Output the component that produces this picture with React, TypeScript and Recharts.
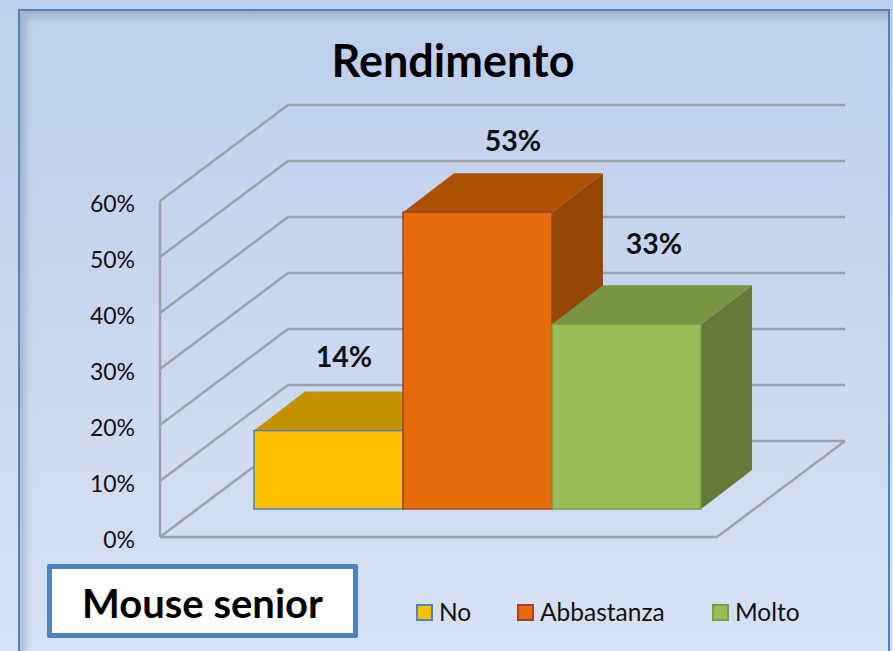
import { BarChart, Bar, XAxis, YAxis, CartesianGrid, Legend, LabelList } from 'recharts'

const categories = ['Rendimento']
const seriesNames = ['No', 'Abbastanza', 'Molto']
const seriesValues = [14, 53, 33]
const yTicks = [0, 10, 20, 30, 40, 50, 60]

const FONT = 'Lato, sans-serif'
const WALL_DX = 128
const WALL_DY = 96
const BAR_SHIFT_X = 38.5
const BAR_SHIFT_Y = 28
const DEPTH_X = 51
const DEPTH_Y = 39

const faceColors = ['#ffc000', '#e46c0a', '#9bbb59']
const topColors = ['#c39200', '#ad5205', '#7a9445']
const sideColors = ['#a87e00', '#964606', '#657a39']
const edgeColors = ['#4f81bd', '#a5402c', '#7f9a48']
const labelOffsets = [
  [54, -103],
  [74, -100],
  [66, -109],
]

const data = categories.map((name) => {
  const row: Record<string, string | number> = { name }
  seriesNames.forEach((s, i) => {
    row[s] = seriesValues[i]
  })
  return row
})

// Front face plus top and side, moved back onto the floor of the 3D box
function Box3D(props: any) {
  const { x, y, width, height, idx } = props
  const left = x + BAR_SHIFT_X
  const top = y - BAR_SHIFT_Y
  const right = left + width
  const bottom = top + height
  const edge = edgeColors[idx]
  return (
    <g>
      <polygon
        points={`${right},${top} ${right + DEPTH_X},${top - DEPTH_Y} ${right + DEPTH_X},${bottom - DEPTH_Y} ${right},${bottom}`}
        fill={sideColors[idx]}
      />
      <polygon
        points={`${left},${top} ${left + DEPTH_X},${top - DEPTH_Y} ${right + DEPTH_X},${top - DEPTH_Y} ${right},${top}`}
        fill={topColors[idx]}
      />
      <rect x={left} y={top} width={width} height={height} fill={faceColors[idx]} stroke={edge} strokeWidth={1.5} />
    </g>
  )
}

// Grid line that runs along the side wall and then along the back wall
function WallLine(props: any) {
  const { x1, y1, x2, index } = props
  return (
    <g key={index}>
      <polyline
        points={`${x1},${y1} ${x1 + WALL_DX},${y1 - WALL_DY} ${x2 + WALL_DX},${y1 - WALL_DY}`}
        fill="none"
        stroke="#9ea1a9"
        strokeWidth={2.5}
      />
      {y1 > 530 && (
        <polyline
          points={`${x1},${y1} ${x2},${y1} ${x2 + WALL_DX},${y1 - WALL_DY}`}
          fill="none"
          stroke="#9ea1a9"
          strokeWidth={2.5}
        />
      )}
    </g>
  )
}

function LegendContent() {
  return (
    <div style={{ position: 'relative', height: 26, fontFamily: FONT, fontSize: 24.5, color: '#111' }}>
      {seriesNames.map((name, i) => (
        <div
          key={name}
          style={{ position: 'absolute', left: [0, 101, 296][i], top: 0, display: 'flex', alignItems: 'center', lineHeight: '26px' }}
        >
          <span
            style={{
              display: 'inline-block',
              width: 13,
              height: 13,
              marginRight: 6,
              background: faceColors[i],
              border: `2px solid ${edgeColors[i]}`,
            }}
          />
          {name}
        </div>
      ))}
    </div>
  )
}

export default function App() {
  return (
    <div
      style={{
        position: 'fixed',
        left: 0,
        top: 0,
        width: 893,
        height: 651,
        overflow: 'hidden',
        background: 'linear-gradient(180deg, #bdcfec 0%, #d6e1f3 100%)',
      }}
    >
      <div
        style={{
          position: 'absolute',
          left: 18,
          top: 9,
          width: 868,
          height: 660,
          border: '2px solid #4f81bd',
          boxShadow: 'inset 6px 6px 7px rgba(110,125,150,0.35)',
        }}
      />
      <div
        style={{
          position: 'absolute',
          left: 0,
          width: 893,
          top: 34,
          textAlign: 'center',
          paddingLeft: 13,
          boxSizing: 'border-box',
          fontFamily: FONT,
          fontWeight: 700,
          fontSize: 45,
          lineHeight: '52px',
          color: '#000',
        }}
      >
        Rendimento
      </div>
      <div style={{ position: 'absolute', left: 0, top: 0 }}>
        <BarChart
          width={893}
          height={651}
          data={data}
          margin={{ top: 201, right: 176, bottom: 114, left: 0 }}
          barCategoryGap={55.5}
          barGap={0}
        >
          <CartesianGrid vertical={false} horizontal={(p: any) => <WallLine {...p} />} />
          <XAxis dataKey="name" hide />
          <YAxis
            width={160}
            domain={[0, 60]}
            ticks={yTicks}
            interval={0}
            tickLine={false}
            tickMargin={19}
            axisLine={{ stroke: '#9ea1a9', strokeWidth: 2.5 }}
            tickFormatter={(v) => `${v}%`}
            tick={{ fill: '#111', fontSize: 23, fontFamily: FONT, dy: 3 }}
          />
          <Legend
            layout="horizontal"
            verticalAlign="middle"
            content={<LegendContent />}
            wrapperStyle={{ left: 416, top: 599, width: 420, height: 26 }}
          />
          {seriesNames.map((name, i) => (
            <Bar key={name} dataKey={name} isAnimationActive={false} fill={faceColors[i]} shape={(p: any) => <Box3D {...p} idx={i} />}>
              <LabelList
                dataKey={name}
                content={(p: any) => (
                  <text
                    x={p.x + p.width / 2 + labelOffsets[i][0]}
                    y={p.y + labelOffsets[i][1]}
                    textAnchor="middle"
                    dominantBaseline="central"
                    fontFamily={FONT}
                    fontWeight={700}
                    fontSize={28.5}
                    fill="#111"
                  >
                    {p.value}%
                  </text>
                )}
              />
            </Bar>
          ))}
        </BarChart>
      </div>
      <div
        style={{
          position: 'absolute',
          left: 47,
          top: 564,
          width: 301,
          height: 64,
          border: '5px solid #4f81bd',
          borderRadius: 2,
          background: '#fff',
          textAlign: 'center',
          fontFamily: FONT,
          fontWeight: 700,
          fontSize: 40,
          lineHeight: '68px',
          color: '#000',
        }}
      >
        Mouse senior
      </div>
    </div>
  )
}
